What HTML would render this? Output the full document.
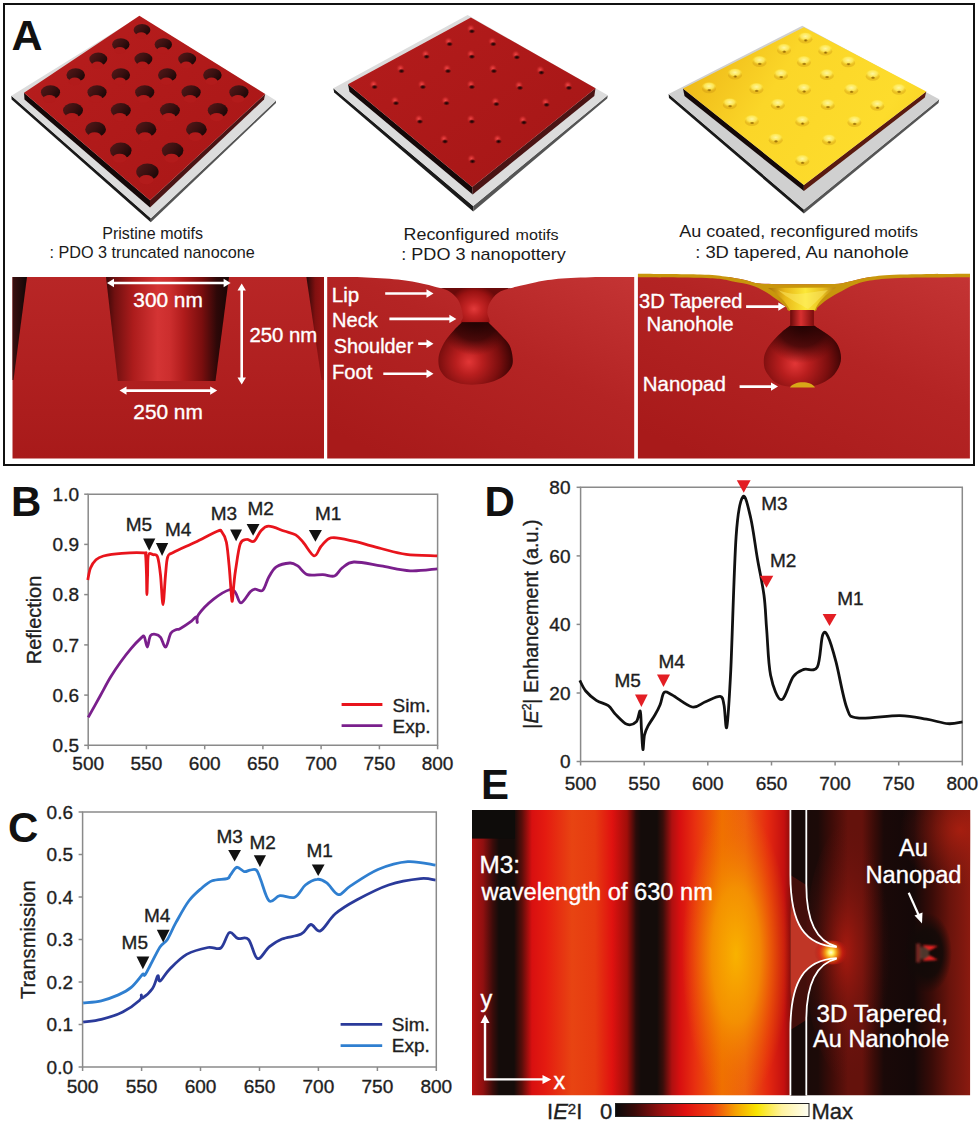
<!DOCTYPE html>
<html><head><meta charset="utf-8"><style>
html,body{margin:0;padding:0;background:#fff;width:980px;height:1126px;overflow:hidden}
svg{position:absolute;left:0;top:0;display:block}
text{font-family:"Liberation Sans",sans-serif;stroke-width:0.35px}
</style></head><body>
<svg width="980" height="1126" viewBox="0 0 980 1126">
<defs>
<linearGradient id="redTop1" x1="0" y1="0" x2="1" y2="1"><stop offset="0" stop-color="#b81e1e"/><stop offset="1" stop-color="#a81616"/></linearGradient>
<linearGradient id="redTop2" x1="0" y1="0" x2="1" y2="1"><stop offset="0" stop-color="#b41c1c"/><stop offset="1" stop-color="#a51616"/></linearGradient>
<linearGradient id="goldTop" x1="0" y1="0.3" x2="1" y2="0.7"><stop offset="0" stop-color="#eeb818"/><stop offset="0.35" stop-color="#fbd628"/><stop offset="0.8" stop-color="#fddc2c"/><stop offset="1" stop-color="#f8d222"/></linearGradient>
<linearGradient id="holeG" x1="0" y1="0.2" x2="1" y2="0.8"><stop offset="0" stop-color="#521818"/><stop offset="0.5" stop-color="#3a1010"/><stop offset="1" stop-color="#180606"/></linearGradient>
<radialGradient id="dimHL"><stop offset="0" stop-color="#f04848"/><stop offset="0.45" stop-color="#dc3434" stop-opacity="0.7"/><stop offset="1" stop-color="#b01a1a" stop-opacity="0"/></radialGradient>
<radialGradient id="dimDK"><stop offset="0" stop-color="#120202"/><stop offset="0.45" stop-color="#2a0606" stop-opacity="0.8"/><stop offset="1" stop-color="#4a0a0a" stop-opacity="0"/></radialGradient>
<radialGradient id="gdimHL" cy="0.4"><stop offset="0" stop-color="#fff7a0"/><stop offset="0.6" stop-color="#ffec60" stop-opacity="0.85"/><stop offset="1" stop-color="#f8d828" stop-opacity="0"/></radialGradient>
<radialGradient id="gdimDK"><stop offset="0" stop-color="#7a5000" stop-opacity="0.85"/><stop offset="0.6" stop-color="#9a6a00" stop-opacity="0.55"/><stop offset="1" stop-color="#b08000" stop-opacity="0"/></radialGradient>
<linearGradient id="xsBg" x1="0" y1="0" x2="0" y2="1"><stop offset="0" stop-color="#b82626"/><stop offset="0.5" stop-color="#b02020"/><stop offset="1" stop-color="#a81a1a"/></linearGradient>
<linearGradient id="xsBg2" x1="1" y1="0" x2="0.2" y2="1"><stop offset="0" stop-color="#c43434"/><stop offset="0.45" stop-color="#b42424"/><stop offset="1" stop-color="#a81a1a"/></linearGradient>
<linearGradient id="coneG" x1="0" y1="0" x2="1" y2="0"><stop offset="0" stop-color="#3a0808"/><stop offset="0.07" stop-color="#701010"/><stop offset="0.22" stop-color="#ac1c1c"/><stop offset="0.42" stop-color="#d43434"/><stop offset="0.52" stop-color="#cc2e2e"/><stop offset="0.63" stop-color="#b01c1c"/><stop offset="0.78" stop-color="#7a0e0e"/><stop offset="0.9" stop-color="#2e0808"/><stop offset="1" stop-color="#180505"/></linearGradient>
<linearGradient id="wedgeL" x1="0" y1="0" x2="1" y2="0"><stop offset="0" stop-color="#3a1010"/><stop offset="1" stop-color="#120606"/></linearGradient>
<linearGradient id="wedgeR" x1="0" y1="0" x2="1" y2="0"><stop offset="0" stop-color="#2a0808"/><stop offset="0.5" stop-color="#801010"/><stop offset="1" stop-color="#9a1414"/></linearGradient>
<radialGradient id="bulbG" gradientUnits="userSpaceOnUse" cx="469" cy="362" r="44"><stop offset="0" stop-color="#e23636"/><stop offset="0.3" stop-color="#b81e1e"/><stop offset="0.7" stop-color="#7a0e0e"/><stop offset="1" stop-color="#3a0404"/></radialGradient>
<radialGradient id="neckG" cx="0.5" cy="0.55" r="0.55"><stop offset="0" stop-color="#e03a3a"/><stop offset="0.6" stop-color="#b01818"/><stop offset="1" stop-color="#6a0808"/></radialGradient>
<radialGradient id="neckG2" gradientUnits="userSpaceOnUse" cx="474" cy="309" r="26" gradientTransform="translate(474 309) scale(1 0.9) translate(-474 -309)"><stop offset="0" stop-color="#e23a3a"/><stop offset="0.3" stop-color="#c42424"/><stop offset="0.75" stop-color="#9a1212"/><stop offset="1" stop-color="#6a0a0a"/></radialGradient>
<radialGradient id="bulbShade" gradientUnits="userSpaceOnUse" cx="475" cy="318" r="50"><stop offset="0" stop-color="#1a0202" stop-opacity="0.95"/><stop offset="0.45" stop-color="#2a0404" stop-opacity="0.7"/><stop offset="0.75" stop-color="#500808" stop-opacity="0"/></radialGradient>
<radialGradient id="bulbShade3" gradientUnits="userSpaceOnUse" cx="802" cy="322" r="55"><stop offset="0" stop-color="#1a0202" stop-opacity="0.95"/><stop offset="0.45" stop-color="#2a0404" stop-opacity="0.7"/><stop offset="0.75" stop-color="#500808" stop-opacity="0"/></radialGradient>
<radialGradient id="bulbG3" gradientUnits="userSpaceOnUse" cx="795" cy="364" r="48"><stop offset="0" stop-color="#e23636"/><stop offset="0.3" stop-color="#b81e1e"/><stop offset="0.7" stop-color="#7a0e0e"/><stop offset="1" stop-color="#3a0404"/></radialGradient>
<linearGradient id="neck3G" x1="0" y1="0" x2="1" y2="0"><stop offset="0" stop-color="#6a0a0a"/><stop offset="0.45" stop-color="#d83030"/><stop offset="1" stop-color="#7a0c0c"/></linearGradient>
<linearGradient id="goldL" x1="0" y1="0" x2="1" y2="0"><stop offset="0" stop-color="#a87008"/><stop offset="0.25" stop-color="#e8b818"/><stop offset="0.55" stop-color="#fce838"/><stop offset="0.8" stop-color="#e8c020"/><stop offset="1" stop-color="#b88010"/></linearGradient>
</defs>
<polygon points="11.4,95.8 150.8,218.2 150.8,222.2 11.6,99.5" fill="#1a1a1a"/>
<polygon points="150.8,218.2 276.0,100.6 276.0,103.0 150.8,222.2" fill="#555"/>
<polygon points="139.4,16.5 276.0,100.6 150.8,218.2 11.4,95.8" fill="#dcdcdc"/>
<polygon points="24.0,92.8 150.0,200.2 150.0,207.6 24.5,99.5" fill="#140808"/>
<polygon points="150.0,200.2 265.2,93.9 264.0,99.5 150.0,207.6" fill="#4a1414"/>
<polygon points="139.4,15.8 265.2,93.9 150.0,200.2 24.0,92.8" fill="url(#redTop1)"/>
<ellipse cx="142.0" cy="29.9" rx="8.4" ry="6.0" fill="url(#holeG)"/>
<ellipse cx="141.2" cy="35.6" rx="5.5" ry="3.4" fill="#b21b1b"/>
<ellipse cx="120.8" cy="44.5" rx="8.7" ry="6.2" fill="url(#holeG)"/>
<ellipse cx="119.9" cy="50.4" rx="5.7" ry="3.5" fill="#b21b1b"/>
<ellipse cx="163.3" cy="44.5" rx="8.7" ry="6.2" fill="url(#holeG)"/>
<ellipse cx="162.4" cy="50.4" rx="5.7" ry="3.5" fill="#b21b1b"/>
<ellipse cx="98.3" cy="59.1" rx="9.0" ry="6.5" fill="url(#holeG)"/>
<ellipse cx="97.4" cy="65.2" rx="5.9" ry="3.6" fill="#b21b1b"/>
<ellipse cx="143.4" cy="59.1" rx="9.0" ry="6.5" fill="url(#holeG)"/>
<ellipse cx="142.5" cy="65.2" rx="5.9" ry="3.6" fill="#b21b1b"/>
<ellipse cx="187.2" cy="59.1" rx="9.0" ry="6.5" fill="url(#holeG)"/>
<ellipse cx="186.3" cy="65.2" rx="5.9" ry="3.6" fill="#b21b1b"/>
<ellipse cx="75.7" cy="75.0" rx="9.3" ry="6.7" fill="url(#holeG)"/>
<ellipse cx="74.8" cy="81.4" rx="6.1" ry="3.8" fill="#b21b1b"/>
<ellipse cx="120.8" cy="75.0" rx="9.3" ry="6.7" fill="url(#holeG)"/>
<ellipse cx="119.9" cy="81.4" rx="6.1" ry="3.8" fill="#b21b1b"/>
<ellipse cx="167.3" cy="75.0" rx="9.3" ry="6.7" fill="url(#holeG)"/>
<ellipse cx="166.4" cy="81.4" rx="6.1" ry="3.8" fill="#b21b1b"/>
<ellipse cx="212.4" cy="75.0" rx="9.3" ry="6.7" fill="url(#holeG)"/>
<ellipse cx="211.5" cy="81.4" rx="6.1" ry="3.8" fill="#b21b1b"/>
<ellipse cx="50.5" cy="92.2" rx="9.6" ry="7.0" fill="url(#holeG)"/>
<ellipse cx="49.5" cy="98.9" rx="6.4" ry="3.9" fill="#b21b1b"/>
<ellipse cx="97.0" cy="92.2" rx="9.6" ry="7.0" fill="url(#holeG)"/>
<ellipse cx="96.0" cy="98.9" rx="6.4" ry="3.9" fill="#b21b1b"/>
<ellipse cx="144.7" cy="92.2" rx="9.6" ry="7.0" fill="url(#holeG)"/>
<ellipse cx="143.7" cy="98.9" rx="6.4" ry="3.9" fill="#b21b1b"/>
<ellipse cx="191.1" cy="92.2" rx="9.6" ry="7.0" fill="url(#holeG)"/>
<ellipse cx="190.1" cy="98.9" rx="6.4" ry="3.9" fill="#b21b1b"/>
<ellipse cx="238.9" cy="92.2" rx="9.6" ry="7.0" fill="url(#holeG)"/>
<ellipse cx="237.9" cy="98.9" rx="6.4" ry="3.9" fill="#b21b1b"/>
<ellipse cx="73.0" cy="110.3" rx="10.0" ry="7.3" fill="url(#holeG)"/>
<ellipse cx="72.0" cy="117.2" rx="6.6" ry="4.1" fill="#b21b1b"/>
<ellipse cx="120.8" cy="110.3" rx="10.0" ry="7.3" fill="url(#holeG)"/>
<ellipse cx="119.8" cy="117.2" rx="6.6" ry="4.1" fill="#b21b1b"/>
<ellipse cx="169.9" cy="110.3" rx="10.0" ry="7.3" fill="url(#holeG)"/>
<ellipse cx="168.9" cy="117.2" rx="6.6" ry="4.1" fill="#b21b1b"/>
<ellipse cx="217.7" cy="110.3" rx="10.0" ry="7.3" fill="url(#holeG)"/>
<ellipse cx="216.7" cy="117.2" rx="6.6" ry="4.1" fill="#b21b1b"/>
<ellipse cx="95.6" cy="129.4" rx="10.4" ry="7.6" fill="url(#holeG)"/>
<ellipse cx="94.6" cy="136.6" rx="6.8" ry="4.3" fill="#b21b1b"/>
<ellipse cx="146.0" cy="129.4" rx="10.4" ry="7.6" fill="url(#holeG)"/>
<ellipse cx="145.0" cy="136.6" rx="6.8" ry="4.3" fill="#b21b1b"/>
<ellipse cx="196.4" cy="129.4" rx="10.4" ry="7.6" fill="url(#holeG)"/>
<ellipse cx="195.4" cy="136.6" rx="6.8" ry="4.3" fill="#b21b1b"/>
<ellipse cx="120.8" cy="150.6" rx="10.8" ry="8.0" fill="url(#holeG)"/>
<ellipse cx="119.7" cy="158.2" rx="7.1" ry="4.5" fill="#b21b1b"/>
<ellipse cx="172.6" cy="150.6" rx="10.8" ry="8.0" fill="url(#holeG)"/>
<ellipse cx="171.5" cy="158.2" rx="7.1" ry="4.5" fill="#b21b1b"/>
<ellipse cx="147.4" cy="171.8" rx="11.2" ry="8.3" fill="url(#holeG)"/>
<ellipse cx="146.3" cy="179.7" rx="7.4" ry="4.6" fill="#b21b1b"/>
<polygon points="333.3,88.2 473.2,205.9 473.2,211.4 334.2,92.5" fill="#1a1a1a"/>
<polygon points="473.2,205.9 607.8,95.2 607.2,98.5 473.2,211.4" fill="#555"/>
<polygon points="467.6,15.1 607.8,95.2 473.2,205.9 333.3,88.2" fill="#dcdcdc"/>
<polygon points="348.0,84.2 472.2,187.1 472.7,194.4 349.5,91.8" fill="#140808"/>
<polygon points="472.2,187.1 595.5,88.2 594.3,96.1 472.7,194.4" fill="#4a1414"/>
<polygon points="470.9,17.6 595.5,88.2 472.2,187.1 348.0,84.2" fill="url(#redTop2)"/>
<circle cx="470.8" cy="28.5" r="4.6" fill="url(#dimHL)"/>
<ellipse cx="471.9" cy="31.3" rx="3.4" ry="2.4" fill="url(#dimDK)"/>
<circle cx="448.5" cy="41.3" r="4.6" fill="url(#dimHL)"/>
<ellipse cx="449.6" cy="44.1" rx="3.4" ry="2.4" fill="url(#dimDK)"/>
<circle cx="492.2" cy="41.3" r="4.6" fill="url(#dimHL)"/>
<ellipse cx="493.3" cy="44.1" rx="3.4" ry="2.4" fill="url(#dimDK)"/>
<circle cx="425.5" cy="53.9" r="4.6" fill="url(#dimHL)"/>
<ellipse cx="426.6" cy="56.7" rx="3.4" ry="2.4" fill="url(#dimDK)"/>
<circle cx="470.8" cy="53.9" r="4.6" fill="url(#dimHL)"/>
<ellipse cx="471.9" cy="56.7" rx="3.4" ry="2.4" fill="url(#dimDK)"/>
<circle cx="515.8" cy="54.5" r="4.6" fill="url(#dimHL)"/>
<ellipse cx="516.9" cy="57.3" rx="3.4" ry="2.4" fill="url(#dimDK)"/>
<circle cx="400.4" cy="68.3" r="4.6" fill="url(#dimHL)"/>
<ellipse cx="401.5" cy="71.1" rx="3.4" ry="2.4" fill="url(#dimDK)"/>
<circle cx="446.9" cy="68.3" r="4.6" fill="url(#dimHL)"/>
<ellipse cx="448.0" cy="71.1" rx="3.4" ry="2.4" fill="url(#dimDK)"/>
<circle cx="492.8" cy="68.3" r="4.6" fill="url(#dimHL)"/>
<ellipse cx="493.9" cy="71.1" rx="3.4" ry="2.4" fill="url(#dimDK)"/>
<circle cx="540.3" cy="69.8" r="4.6" fill="url(#dimHL)"/>
<ellipse cx="541.4" cy="72.6" rx="3.4" ry="2.4" fill="url(#dimDK)"/>
<circle cx="373.5" cy="84.2" r="4.6" fill="url(#dimHL)"/>
<ellipse cx="374.6" cy="87.0" rx="3.4" ry="2.4" fill="url(#dimDK)"/>
<circle cx="421.8" cy="84.2" r="4.6" fill="url(#dimHL)"/>
<ellipse cx="422.9" cy="87.0" rx="3.4" ry="2.4" fill="url(#dimDK)"/>
<circle cx="470.8" cy="84.2" r="4.6" fill="url(#dimHL)"/>
<ellipse cx="471.9" cy="87.0" rx="3.4" ry="2.4" fill="url(#dimDK)"/>
<circle cx="518.9" cy="85.1" r="4.6" fill="url(#dimHL)"/>
<ellipse cx="520.0" cy="87.9" rx="3.4" ry="2.4" fill="url(#dimDK)"/>
<circle cx="567.8" cy="85.1" r="4.6" fill="url(#dimHL)"/>
<ellipse cx="568.9" cy="87.9" rx="3.4" ry="2.4" fill="url(#dimDK)"/>
<circle cx="394.9" cy="100.4" r="4.6" fill="url(#dimHL)"/>
<ellipse cx="396.0" cy="103.2" rx="3.4" ry="2.4" fill="url(#dimDK)"/>
<circle cx="445.4" cy="100.4" r="4.6" fill="url(#dimHL)"/>
<ellipse cx="446.5" cy="103.2" rx="3.4" ry="2.4" fill="url(#dimDK)"/>
<circle cx="495.3" cy="101.3" r="4.6" fill="url(#dimHL)"/>
<ellipse cx="496.4" cy="104.1" rx="3.4" ry="2.4" fill="url(#dimDK)"/>
<circle cx="545.5" cy="102.0" r="4.6" fill="url(#dimHL)"/>
<ellipse cx="546.6" cy="104.8" rx="3.4" ry="2.4" fill="url(#dimDK)"/>
<circle cx="418.8" cy="118.8" r="4.6" fill="url(#dimHL)"/>
<ellipse cx="419.9" cy="121.6" rx="3.4" ry="2.4" fill="url(#dimDK)"/>
<circle cx="470.8" cy="118.8" r="4.6" fill="url(#dimHL)"/>
<ellipse cx="471.9" cy="121.6" rx="3.4" ry="2.4" fill="url(#dimDK)"/>
<circle cx="522.8" cy="119.7" r="4.6" fill="url(#dimHL)"/>
<ellipse cx="523.9" cy="122.5" rx="3.4" ry="2.4" fill="url(#dimDK)"/>
<circle cx="443.9" cy="138.7" r="4.6" fill="url(#dimHL)"/>
<ellipse cx="445.0" cy="141.5" rx="3.4" ry="2.4" fill="url(#dimDK)"/>
<circle cx="497.5" cy="138.7" r="4.6" fill="url(#dimHL)"/>
<ellipse cx="498.6" cy="141.5" rx="3.4" ry="2.4" fill="url(#dimDK)"/>
<circle cx="471.4" cy="158.6" r="4.6" fill="url(#dimHL)"/>
<ellipse cx="472.5" cy="161.4" rx="3.4" ry="2.4" fill="url(#dimDK)"/>
<polygon points="668.6,94.0 803.9,209.4 803.9,213.5 669.0,98.0" fill="#1a1a1a"/>
<polygon points="803.9,209.4 939.2,99.2 938.5,103.0 803.9,213.5" fill="#555"/>
<polygon points="802.3,25.7 939.2,99.2 803.9,209.4 668.6,94.0" fill="#d0d0d0"/>
<polygon points="683.0,88.5 803.9,184.9 803.9,191.0 684.5,96.1" fill="#140808"/>
<polygon points="803.9,184.9 926.3,91.5 924.8,97.6 803.9,191.0" fill="#5a1a10"/>
<polygon points="803.9,27.2 926.3,91.5 803.9,184.9 683.0,88.5" fill="url(#goldTop)"/>
<ellipse cx="805.4" cy="39.2" rx="7.0" ry="4.2" fill="#c89010" opacity="0.35"/>
<ellipse cx="805.4" cy="37.4" rx="7.8" ry="5.0" fill="url(#gdimHL)"/>
<ellipse cx="805.7" cy="40.4" rx="2.4" ry="1.6" fill="url(#gdimDK)"/>
<ellipse cx="784.0" cy="50.5" rx="7.0" ry="4.2" fill="#c89010" opacity="0.35"/>
<ellipse cx="784.0" cy="48.7" rx="7.8" ry="5.0" fill="url(#gdimHL)"/>
<ellipse cx="784.3" cy="51.7" rx="2.4" ry="1.6" fill="url(#gdimDK)"/>
<ellipse cx="825.3" cy="51.4" rx="7.0" ry="4.2" fill="#c89010" opacity="0.35"/>
<ellipse cx="825.3" cy="49.6" rx="7.8" ry="5.0" fill="url(#gdimHL)"/>
<ellipse cx="825.6" cy="52.6" rx="2.4" ry="1.6" fill="url(#gdimDK)"/>
<ellipse cx="759.5" cy="62.7" rx="7.0" ry="4.2" fill="#c89010" opacity="0.35"/>
<ellipse cx="759.5" cy="60.9" rx="7.8" ry="5.0" fill="url(#gdimHL)"/>
<ellipse cx="759.8" cy="63.9" rx="2.4" ry="1.6" fill="url(#gdimDK)"/>
<ellipse cx="803.9" cy="62.7" rx="7.0" ry="4.2" fill="#c89010" opacity="0.35"/>
<ellipse cx="803.9" cy="60.9" rx="7.8" ry="5.0" fill="url(#gdimHL)"/>
<ellipse cx="804.2" cy="63.9" rx="2.4" ry="1.6" fill="url(#gdimDK)"/>
<ellipse cx="848.2" cy="63.0" rx="7.0" ry="4.2" fill="#c89010" opacity="0.35"/>
<ellipse cx="848.2" cy="61.2" rx="7.8" ry="5.0" fill="url(#gdimHL)"/>
<ellipse cx="848.5" cy="64.2" rx="2.4" ry="1.6" fill="url(#gdimDK)"/>
<ellipse cx="735.0" cy="75.3" rx="7.0" ry="4.2" fill="#c89010" opacity="0.35"/>
<ellipse cx="735.0" cy="73.5" rx="7.8" ry="5.0" fill="url(#gdimHL)"/>
<ellipse cx="735.3" cy="76.5" rx="2.4" ry="1.6" fill="url(#gdimDK)"/>
<ellipse cx="780.9" cy="75.9" rx="7.0" ry="4.2" fill="#c89010" opacity="0.35"/>
<ellipse cx="780.9" cy="74.1" rx="7.8" ry="5.0" fill="url(#gdimHL)"/>
<ellipse cx="781.2" cy="77.1" rx="2.4" ry="1.6" fill="url(#gdimDK)"/>
<ellipse cx="826.8" cy="75.9" rx="7.0" ry="4.2" fill="#c89010" opacity="0.35"/>
<ellipse cx="826.8" cy="74.1" rx="7.8" ry="5.0" fill="url(#gdimHL)"/>
<ellipse cx="827.1" cy="77.1" rx="2.4" ry="1.6" fill="url(#gdimDK)"/>
<ellipse cx="872.7" cy="76.5" rx="7.0" ry="4.2" fill="#c89010" opacity="0.35"/>
<ellipse cx="872.7" cy="74.7" rx="7.8" ry="5.0" fill="url(#gdimHL)"/>
<ellipse cx="873.0" cy="77.7" rx="2.4" ry="1.6" fill="url(#gdimDK)"/>
<ellipse cx="709.0" cy="89.0" rx="7.0" ry="4.2" fill="#c89010" opacity="0.35"/>
<ellipse cx="709.0" cy="87.2" rx="7.8" ry="5.0" fill="url(#gdimHL)"/>
<ellipse cx="709.3" cy="90.2" rx="2.4" ry="1.6" fill="url(#gdimDK)"/>
<ellipse cx="756.4" cy="89.7" rx="7.0" ry="4.2" fill="#c89010" opacity="0.35"/>
<ellipse cx="756.4" cy="87.9" rx="7.8" ry="5.0" fill="url(#gdimHL)"/>
<ellipse cx="756.7" cy="90.9" rx="2.4" ry="1.6" fill="url(#gdimDK)"/>
<ellipse cx="803.9" cy="90.3" rx="7.0" ry="4.2" fill="#c89010" opacity="0.35"/>
<ellipse cx="803.9" cy="88.5" rx="7.8" ry="5.0" fill="url(#gdimHL)"/>
<ellipse cx="804.2" cy="91.5" rx="2.4" ry="1.6" fill="url(#gdimDK)"/>
<ellipse cx="851.3" cy="90.6" rx="7.0" ry="4.2" fill="#c89010" opacity="0.35"/>
<ellipse cx="851.3" cy="88.8" rx="7.8" ry="5.0" fill="url(#gdimHL)"/>
<ellipse cx="851.6" cy="91.8" rx="2.4" ry="1.6" fill="url(#gdimDK)"/>
<ellipse cx="898.8" cy="90.6" rx="7.0" ry="4.2" fill="#c89010" opacity="0.35"/>
<ellipse cx="898.8" cy="88.8" rx="7.8" ry="5.0" fill="url(#gdimHL)"/>
<ellipse cx="899.1" cy="91.8" rx="2.4" ry="1.6" fill="url(#gdimDK)"/>
<ellipse cx="729.8" cy="105.0" rx="7.0" ry="4.2" fill="#c89010" opacity="0.35"/>
<ellipse cx="729.8" cy="103.2" rx="7.8" ry="5.0" fill="url(#gdimHL)"/>
<ellipse cx="730.1" cy="106.2" rx="2.4" ry="1.6" fill="url(#gdimDK)"/>
<ellipse cx="777.8" cy="105.6" rx="7.0" ry="4.2" fill="#c89010" opacity="0.35"/>
<ellipse cx="777.8" cy="103.8" rx="7.8" ry="5.0" fill="url(#gdimHL)"/>
<ellipse cx="778.1" cy="106.8" rx="2.4" ry="1.6" fill="url(#gdimDK)"/>
<ellipse cx="827.7" cy="105.9" rx="7.0" ry="4.2" fill="#c89010" opacity="0.35"/>
<ellipse cx="827.7" cy="104.1" rx="7.8" ry="5.0" fill="url(#gdimHL)"/>
<ellipse cx="828.0" cy="107.1" rx="2.4" ry="1.6" fill="url(#gdimDK)"/>
<ellipse cx="877.3" cy="106.5" rx="7.0" ry="4.2" fill="#c89010" opacity="0.35"/>
<ellipse cx="877.3" cy="104.7" rx="7.8" ry="5.0" fill="url(#gdimHL)"/>
<ellipse cx="877.6" cy="107.7" rx="2.4" ry="1.6" fill="url(#gdimDK)"/>
<ellipse cx="751.8" cy="121.8" rx="7.0" ry="4.2" fill="#c89010" opacity="0.35"/>
<ellipse cx="751.8" cy="120.0" rx="7.8" ry="5.0" fill="url(#gdimHL)"/>
<ellipse cx="752.1" cy="123.0" rx="2.4" ry="1.6" fill="url(#gdimDK)"/>
<ellipse cx="802.3" cy="122.4" rx="7.0" ry="4.2" fill="#c89010" opacity="0.35"/>
<ellipse cx="802.3" cy="120.6" rx="7.8" ry="5.0" fill="url(#gdimHL)"/>
<ellipse cx="802.6" cy="123.6" rx="2.4" ry="1.6" fill="url(#gdimDK)"/>
<ellipse cx="854.4" cy="122.7" rx="7.0" ry="4.2" fill="#c89010" opacity="0.35"/>
<ellipse cx="854.4" cy="120.9" rx="7.8" ry="5.0" fill="url(#gdimHL)"/>
<ellipse cx="854.7" cy="123.9" rx="2.4" ry="1.6" fill="url(#gdimDK)"/>
<ellipse cx="775.7" cy="140.2" rx="7.0" ry="4.2" fill="#c89010" opacity="0.35"/>
<ellipse cx="775.7" cy="138.4" rx="7.8" ry="5.0" fill="url(#gdimHL)"/>
<ellipse cx="776.0" cy="141.4" rx="2.4" ry="1.6" fill="url(#gdimDK)"/>
<ellipse cx="829.0" cy="141.1" rx="7.0" ry="4.2" fill="#c89010" opacity="0.35"/>
<ellipse cx="829.0" cy="139.3" rx="7.8" ry="5.0" fill="url(#gdimHL)"/>
<ellipse cx="829.3" cy="142.3" rx="2.4" ry="1.6" fill="url(#gdimDK)"/>
<ellipse cx="802.3" cy="161.6" rx="7.0" ry="4.2" fill="#c89010" opacity="0.35"/>
<ellipse cx="802.3" cy="159.8" rx="7.8" ry="5.0" fill="url(#gdimHL)"/>
<ellipse cx="802.6" cy="162.8" rx="2.4" ry="1.6" fill="url(#gdimDK)"/>
<text x="102.2" y="238.5" font-size="17.0" fill="#1a1a1a" textLength="100.8" lengthAdjust="spacingAndGlyphs" >Pristine motifs</text>
<text x="49.4" y="258.0" font-size="17.0" fill="#1a1a1a" textLength="205.4" lengthAdjust="spacingAndGlyphs" >: PDO 3 truncated nanocone</text>
<text x="403.6" y="239.7" font-size="17.0" fill="#1a1a1a" textLength="106.2" lengthAdjust="spacingAndGlyphs" >Reconfigured</text>
<text x="515.6" y="239.7" font-size="14.6" fill="#1a1a1a" textLength="42.9" lengthAdjust="spacingAndGlyphs" >motifs</text>
<text x="401.3" y="259.9" font-size="17.0" fill="#1a1a1a" textLength="164.6" lengthAdjust="spacingAndGlyphs" >: PDO 3 nanopottery</text>
<text x="679.3" y="236.8" font-size="17.0" fill="#1a1a1a" textLength="191.0" lengthAdjust="spacingAndGlyphs" >Au coated, reconfigured</text>
<text x="874.2" y="236.8" font-size="14.6" fill="#1a1a1a" textLength="43.8" lengthAdjust="spacingAndGlyphs" >motifs</text>
<text x="695.2" y="257.5" font-size="17.0" fill="#1a1a1a" textLength="213.6" lengthAdjust="spacingAndGlyphs" >: 3D  tapered, Au nanohole</text>
<rect x="12.5" y="277" width="311.5" height="181.5" fill="url(#xsBg)"/>
<polygon points="106,277 229,277 215.5,381 117.8,381" fill="url(#coneG)"/>
<polygon points="12.5,277 27,277 13.5,380 12.5,380" fill="url(#wedgeL)"/>
<polygon points="306.4,277 324,277 324,380 321.5,380" fill="url(#wedgeR)"/>
<line x1="113.0" y1="283.0" x2="224.6" y2="283.0" stroke="#fff" stroke-width="2.6"/><polygon points="230.6,283.0 223.6,278.8 223.6,287.2" fill="#fff"/><polygon points="107.0,283.0 114.0,278.8 114.0,287.2" fill="#fff"/>
<line x1="241.7" y1="289.6" x2="241.7" y2="378.6" stroke="#fff" stroke-width="2.6"/><polygon points="241.7,283.6 237.5,290.6 245.9,290.6" fill="#fff"/><polygon points="241.7,384.6 237.5,377.6 245.9,377.6" fill="#fff"/>
<line x1="125.5" y1="390.6" x2="211.2" y2="390.6" stroke="#fff" stroke-width="2.6"/><polygon points="217.2,390.6 210.2,386.4 210.2,394.8" fill="#fff"/><polygon points="119.5,390.6 126.5,386.4 126.5,394.8" fill="#fff"/>
<text x="133.3" y="306.5" font-size="20.0" fill="#ffffff" textLength="69.5" lengthAdjust="spacingAndGlyphs" stroke="#ffffff" >300 nm</text>
<text x="249.5" y="341.8" font-size="20.0" fill="#ffffff" textLength="67.8" lengthAdjust="spacingAndGlyphs" stroke="#ffffff" >250 nm</text>
<text x="133.3" y="419.3" font-size="20.0" fill="#ffffff" textLength="69.5" lengthAdjust="spacingAndGlyphs" stroke="#ffffff" >250 nm</text>
<rect x="327.2" y="277" width="307" height="181.5" fill="url(#xsBg2)"/>
<path d="M327.0,276.8 C332.8,276.9 350.2,276.8 362.0,277.3 C373.8,277.8 387.7,278.5 398.0,279.6 C408.3,280.7 417.0,282.6 424.0,284.0 C431.0,285.4 435.8,287.2 440.0,288.0 C444.2,288.8 442.7,288.6 449.0,288.8 C455.3,289.0 468.5,289.0 478.0,289.0 C487.5,289.0 499.7,289.2 506.0,288.8 C512.3,288.4 511.0,287.9 516.0,286.8 C521.0,285.7 528.3,283.6 536.0,282.2 C543.7,280.8 551.3,279.5 562.0,278.6 C572.7,277.7 587.8,277.3 600.0,277.0 C612.2,276.7 629.2,276.8 635.0,276.8 L635,270 L327,270 Z" fill="#fff"/>
<path d="M440.0,288.0 C441.5,288.5 446.1,289.4 449.0,291.2 C451.9,293.0 455.1,295.9 457.1,298.6 C459.1,301.3 460.2,304.5 461.2,307.6 C462.2,310.7 462.7,314.7 462.9,317.3 C463.1,319.9 458.3,322.5 462.5,323.5 C466.7,324.5 483.9,325.4 488.0,323.5 C492.1,321.6 487.0,315.9 487.3,312.4 C487.6,308.9 488.0,305.9 489.8,302.7 C491.6,299.4 494.5,295.3 498.0,292.9 C501.5,290.4 508.8,288.8 511.0,288.0 Z" fill="url(#neckG2)"/>
<path d="M462.0,322.2 C460.6,323.6 456.6,327.4 453.9,330.4 C451.2,333.4 448.0,336.7 445.7,340.2 C443.4,343.7 441.2,348.1 440.0,351.6 C438.8,355.1 438.3,358.1 438.4,361.4 C438.5,364.7 439.0,368.2 440.8,371.2 C442.6,374.2 444.9,377.2 449.0,379.4 C453.1,381.6 459.3,383.6 465.3,384.3 C471.3,385.0 478.9,384.6 484.9,383.5 C490.9,382.4 496.8,380.4 501.2,377.8 C505.6,375.2 509.1,371.3 511.0,368.0 C512.9,364.7 513.0,362.0 512.7,358.2 C512.4,354.4 511.3,348.9 509.4,345.1 C507.5,341.3 504.2,338.6 501.2,335.3 C498.2,332.0 493.6,327.7 491.4,325.5 C489.2,323.3 488.7,322.8 488.2,322.2 Z" fill="url(#bulbG)"/>
<path d="M462.0,322.2 C460.6,323.6 456.6,327.4 453.9,330.4 C451.2,333.4 448.0,336.7 445.7,340.2 C443.4,343.7 441.2,348.1 440.0,351.6 C438.8,355.1 438.3,358.1 438.4,361.4 C438.5,364.7 439.0,368.2 440.8,371.2 C442.6,374.2 444.9,377.2 449.0,379.4 C453.1,381.6 459.3,383.6 465.3,384.3 C471.3,385.0 478.9,384.6 484.9,383.5 C490.9,382.4 496.8,380.4 501.2,377.8 C505.6,375.2 509.1,371.3 511.0,368.0 C512.9,364.7 513.0,362.0 512.7,358.2 C512.4,354.4 511.3,348.9 509.4,345.1 C507.5,341.3 504.2,338.6 501.2,335.3 C498.2,332.0 493.6,327.7 491.4,325.5 C489.2,323.3 488.7,322.8 488.2,322.2 Z" fill="url(#bulbShade)"/>
<line x1="385.2" y1="293.5" x2="427.5" y2="293.5" stroke="#fff" stroke-width="2.6"/><polygon points="433.5,293.5 426.5,289.3 426.5,297.7" fill="#fff"/>
<line x1="389.4" y1="318.9" x2="450.4" y2="318.9" stroke="#fff" stroke-width="2.6"/><polygon points="456.4,318.9 449.4,314.7 449.4,323.1" fill="#fff"/>
<line x1="418.2" y1="343.7" x2="427.5" y2="343.7" stroke="#fff" stroke-width="2.6"/><polygon points="433.5,343.7 426.5,339.5 426.5,347.9" fill="#fff"/>
<line x1="383.3" y1="373.7" x2="427.5" y2="373.7" stroke="#fff" stroke-width="2.6"/><polygon points="433.5,373.7 426.5,369.5 426.5,377.9" fill="#fff"/>
<text x="331.8" y="301.6" font-size="19.5" fill="#ffffff" textLength="27.4" lengthAdjust="spacingAndGlyphs" stroke="#ffffff" >Lip</text>
<text x="332.0" y="326.8" font-size="19.5" fill="#ffffff" textLength="45.8" lengthAdjust="spacingAndGlyphs" stroke="#ffffff" >Neck</text>
<text x="333.7" y="352.5" font-size="19.5" fill="#ffffff" textLength="79.6" lengthAdjust="spacingAndGlyphs" stroke="#ffffff" >Shoulder</text>
<text x="332.0" y="379.4" font-size="19.5" fill="#ffffff" textLength="40.3" lengthAdjust="spacingAndGlyphs" stroke="#ffffff" >Foot</text>
<rect x="637.9" y="277" width="332" height="181.5" fill="url(#xsBg2)"/>
<path d="M637.9,273.8 C648.2,273.9 685.5,274.1 700.0,274.5 C714.5,274.9 717.5,275.6 725.0,276.5 C732.5,277.4 739.2,278.8 745.0,280.0 C750.8,281.2 752.5,282.9 760.0,283.6 C767.5,284.3 780.0,284.1 790.0,284.2 C800.0,284.3 811.9,284.3 820.0,284.2 C828.1,284.1 833.4,284.3 838.7,283.8 C844.0,283.3 846.8,282.1 852.0,281.0 C857.2,279.9 862.0,278.1 870.0,277.0 C878.0,275.9 883.3,275.1 900.0,274.6 C916.7,274.1 958.3,273.9 970.0,273.8 L970,268 L637.9,268 Z" fill="#fff"/>
<path d="M637.9,273.8 C648.2,273.9 685.5,274.1 700.0,274.5 C714.5,274.9 717.5,275.6 725.0,276.5 C732.5,277.4 739.2,278.8 745.0,280.0 C750.8,281.2 752.5,282.9 760.0,283.6 C767.5,284.3 780.0,284.1 790.0,284.2 C800.0,284.3 811.9,284.3 820.0,284.2 C828.1,284.1 833.4,284.3 838.7,283.8 C844.0,283.3 846.8,282.1 852.0,281.0 C857.2,279.9 862.0,278.1 870.0,277.0 C878.0,275.9 883.3,275.1 900.0,274.6 C916.7,274.1 958.3,273.9 970.0,273.8 L970.0,277.3 C958.3,277.4 916.7,277.4 900.0,278.0 C883.3,278.6 877.7,279.4 870.0,280.6 C862.3,281.8 858.7,283.3 854.0,285.0 C849.3,286.7 846.3,288.7 842.0,291.0 C837.7,293.3 832.0,296.3 828.0,299.0 C824.0,301.7 820.4,305.0 818.0,307.0 C815.6,309.0 818.5,310.3 813.9,311.0 C809.3,311.7 794.9,311.7 790.2,311.0 C785.6,310.3 788.4,309.0 786.0,307.0 C783.6,305.0 779.7,301.7 776.0,299.0 C772.3,296.3 768.0,293.2 764.0,291.0 C760.0,288.8 757.2,287.1 752.0,285.5 C746.8,283.9 740.0,282.7 733.0,281.5 C726.0,280.3 725.9,279.0 710.0,278.3 C694.1,277.6 649.9,277.5 637.9,277.3 Z" fill="#c8960c"/>
<path d="M768,288 L836,287.5 C826,294 818,302 815,310 L790,310 C786,302 778,294 768,288 Z" fill="url(#goldL)"/>
<path d="M778,290 C795,297 805,293 828,290 C818,300 812,306 808,309 C800,304 790,300 778,290 Z" fill="#fff070" opacity="0.45"/>
<path d="M790.2,325.4 C788.8,326.5 784.7,329.4 782.0,331.9 C779.3,334.3 776.5,337.1 773.9,340.1 C771.3,343.1 768.2,346.6 766.5,349.9 C764.8,353.2 763.9,356.2 763.8,359.7 C763.7,363.2 763.8,367.3 765.7,371.1 C767.7,374.9 771.7,380.0 775.5,382.6 C779.3,385.2 783.7,385.9 788.6,386.6 C793.5,387.4 799.5,387.6 804.9,387.1 C810.3,386.6 816.3,385.5 821.2,383.4 C826.1,381.3 831.0,378.1 834.3,374.4 C837.6,370.7 840.0,365.6 840.8,361.3 C841.6,357.0 840.6,352.1 839.2,348.3 C837.9,344.5 835.7,341.5 832.7,338.5 C829.7,335.5 824.3,332.5 821.2,330.3 C818.1,328.1 815.1,326.2 813.9,325.4 Z" fill="url(#bulbG3)"/>
<path d="M790.2,325.4 C788.8,326.5 784.7,329.4 782.0,331.9 C779.3,334.3 776.5,337.1 773.9,340.1 C771.3,343.1 768.2,346.6 766.5,349.9 C764.8,353.2 763.9,356.2 763.8,359.7 C763.7,363.2 763.8,367.3 765.7,371.1 C767.7,374.9 771.7,380.0 775.5,382.6 C779.3,385.2 783.7,385.9 788.6,386.6 C793.5,387.4 799.5,387.6 804.9,387.1 C810.3,386.6 816.3,385.5 821.2,383.4 C826.1,381.3 831.0,378.1 834.3,374.4 C837.6,370.7 840.0,365.6 840.8,361.3 C841.6,357.0 840.6,352.1 839.2,348.3 C837.9,344.5 835.7,341.5 832.7,338.5 C829.7,335.5 824.3,332.5 821.2,330.3 C818.1,328.1 815.1,326.2 813.9,325.4 Z" fill="url(#bulbShade3)"/>
<rect x="790.2" y="310" width="23.7" height="16" fill="url(#neck3G)"/>
<path d="M790,387.6 C793,381 811,380 815,387.6 Z" fill="#d8a818"/>
<line x1="746.1" y1="306.6" x2="779.3" y2="306.6" stroke="#fff" stroke-width="2.6"/><polygon points="785.3,306.6 778.3,302.4 778.3,310.8" fill="#fff"/>
<line x1="739.6" y1="386.6" x2="772.0" y2="386.6" stroke="#fff" stroke-width="2.6"/><polygon points="778.0,386.6 771.0,382.4 771.0,390.8" fill="#fff"/>
<text x="639.0" y="308.2" font-size="21.0" fill="#ffffff" textLength="103.5" lengthAdjust="spacingAndGlyphs" stroke="#ffffff" >3D Tapered</text>
<text x="646.5" y="331.4" font-size="21.0" fill="#ffffff" textLength="87.1" lengthAdjust="spacingAndGlyphs" stroke="#ffffff" >Nanohole</text>
<text x="642.8" y="391.2" font-size="21.0" fill="#ffffff" textLength="83.0" lengthAdjust="spacingAndGlyphs" stroke="#ffffff" >Nanopad</text>
<rect x="4" y="4" width="970" height="461" fill="none" stroke="#111" stroke-width="2"/>
<text x="11.5" y="50.0" font-size="43.0" fill="#111" font-weight="bold" >A</text>
<text x="11.0" y="515.7" font-size="42.0" fill="#111" font-weight="bold" >B</text>
<text x="8.0" y="842.3" font-size="42.0" fill="#111" font-weight="bold" >C</text>
<text x="484.5" y="515.9" font-size="42.0" fill="#111" font-weight="bold" >D</text>
<path d="M88.2,494.2 H437.6 V745.3 H88.2 Z" fill="none" stroke="#8a8a8a" stroke-width="1.5"/>
<line x1="84.2" y1="494.2" x2="88.2" y2="494.2" stroke="#8a8a8a" stroke-width="1.5"/>
<text x="79.0" y="500.8" font-size="19.0" fill="#1e1e1e" text-anchor="end" stroke="#1e1e1e" >1.0</text>
<line x1="84.2" y1="544.4" x2="88.2" y2="544.4" stroke="#8a8a8a" stroke-width="1.5"/>
<text x="79.0" y="551.0" font-size="19.0" fill="#1e1e1e" text-anchor="end" stroke="#1e1e1e" >0.9</text>
<line x1="84.2" y1="594.6" x2="88.2" y2="594.6" stroke="#8a8a8a" stroke-width="1.5"/>
<text x="79.0" y="601.2" font-size="19.0" fill="#1e1e1e" text-anchor="end" stroke="#1e1e1e" >0.8</text>
<line x1="84.2" y1="644.9" x2="88.2" y2="644.9" stroke="#8a8a8a" stroke-width="1.5"/>
<text x="79.0" y="651.5" font-size="19.0" fill="#1e1e1e" text-anchor="end" stroke="#1e1e1e" >0.7</text>
<line x1="84.2" y1="695.1" x2="88.2" y2="695.1" stroke="#8a8a8a" stroke-width="1.5"/>
<text x="79.0" y="701.7" font-size="19.0" fill="#1e1e1e" text-anchor="end" stroke="#1e1e1e" >0.6</text>
<line x1="84.2" y1="745.3" x2="88.2" y2="745.3" stroke="#8a8a8a" stroke-width="1.5"/>
<text x="79.0" y="751.9" font-size="19.0" fill="#1e1e1e" text-anchor="end" stroke="#1e1e1e" >0.5</text>
<line x1="88.2" y1="745.3" x2="88.2" y2="749.3" stroke="#8a8a8a" stroke-width="1.5"/>
<text x="88.2" y="769.6" font-size="19.0" fill="#1e1e1e" text-anchor="middle" stroke="#1e1e1e" >500</text>
<line x1="146.4" y1="745.3" x2="146.4" y2="749.3" stroke="#8a8a8a" stroke-width="1.5"/>
<text x="146.4" y="769.6" font-size="19.0" fill="#1e1e1e" text-anchor="middle" stroke="#1e1e1e" >550</text>
<line x1="204.7" y1="745.3" x2="204.7" y2="749.3" stroke="#8a8a8a" stroke-width="1.5"/>
<text x="204.7" y="769.6" font-size="19.0" fill="#1e1e1e" text-anchor="middle" stroke="#1e1e1e" >600</text>
<line x1="262.9" y1="745.3" x2="262.9" y2="749.3" stroke="#8a8a8a" stroke-width="1.5"/>
<text x="262.9" y="769.6" font-size="19.0" fill="#1e1e1e" text-anchor="middle" stroke="#1e1e1e" >650</text>
<line x1="321.1" y1="745.3" x2="321.1" y2="749.3" stroke="#8a8a8a" stroke-width="1.5"/>
<text x="321.1" y="769.6" font-size="19.0" fill="#1e1e1e" text-anchor="middle" stroke="#1e1e1e" >700</text>
<line x1="379.4" y1="745.3" x2="379.4" y2="749.3" stroke="#8a8a8a" stroke-width="1.5"/>
<text x="379.4" y="769.6" font-size="19.0" fill="#1e1e1e" text-anchor="middle" stroke="#1e1e1e" >750</text>
<line x1="437.6" y1="745.3" x2="437.6" y2="749.3" stroke="#8a8a8a" stroke-width="1.5"/>
<text x="437.6" y="769.6" font-size="19.0" fill="#1e1e1e" text-anchor="middle" stroke="#1e1e1e" >800</text>
<text x="34.5" y="620.0" font-size="19.9" fill="#1e1e1e" text-anchor="middle" stroke="#1e1e1e" transform="rotate(-90 34.5 620)" dy="6.8">Reflection</text>
<path d="M88.2,717.4 C90.2,713.8 96.7,702.2 100.4,695.5 C104.1,688.8 107.2,682.7 110.6,677.1 C114.0,671.5 117.4,666.5 120.8,661.8 C124.2,657.0 127.6,652.6 131.0,648.6 C134.4,644.6 139.0,639.9 141.2,637.9 C143.4,635.9 143.3,635.3 144.3,636.8 C145.3,638.3 146.3,647.2 147.3,647.0 C148.3,646.8 149.0,637.9 150.4,635.8 C151.8,633.7 153.8,634.0 155.5,634.3 C157.2,634.5 158.9,635.2 160.6,637.3 C162.3,639.4 164.0,647.7 165.7,647.0 C167.4,646.3 169.1,636.2 170.8,633.3 C172.5,630.4 174.4,630.5 175.9,629.7 C177.4,628.9 177.4,630.1 180.0,628.7 C182.6,627.3 188.8,623.2 191.5,621.2 C194.2,619.2 195.2,616.6 196.2,616.8 C197.2,617.0 196.9,622.8 197.3,622.5 C197.7,622.2 195.7,618.7 198.4,614.8 C201.1,610.9 208.3,603.4 213.6,599.2 C218.9,595.0 226.4,590.6 230.1,589.5 C233.8,588.4 233.8,590.6 235.6,592.8 C237.4,595.0 238.6,603.1 241.1,602.9 C243.6,602.7 248.0,594.1 250.3,591.8 C252.6,589.5 252.9,589.5 255.0,589.2 C257.1,588.9 260.5,592.2 262.8,590.2 C265.1,588.2 266.4,581.4 268.6,577.5 C270.9,573.6 272.8,569.3 276.3,566.9 C279.9,564.5 286.3,563.2 289.9,563.0 C293.5,562.8 294.8,564.0 297.7,565.9 C300.6,567.8 303.1,573.1 307.3,574.6 C311.5,576.1 318.4,574.4 322.9,574.6 C327.4,574.8 331.3,577.1 334.5,576.0 C337.7,574.9 339.0,570.2 342.2,567.9 C345.4,565.6 347.4,562.3 353.9,562.0 C360.4,561.7 371.6,564.4 381.0,565.9 C390.4,567.4 400.7,570.3 410.1,570.8 C419.5,571.3 432.7,569.1 437.2,568.8" fill="none" stroke="#7a1f8c" stroke-width="2.8" stroke-linejoin="round"/>
<path d="M87.8,579.9 C88.2,577.9 89.1,571.4 90.5,568.0 C91.9,564.6 93.8,561.7 96.0,559.7 C98.2,557.7 99.1,557.1 103.4,556.0 C107.7,554.9 115.0,553.8 121.7,553.3 C128.4,552.8 139.8,552.6 143.8,552.9 C147.8,553.2 145.2,551.3 145.6,555.0 C146.0,558.7 146.3,568.4 146.5,575.0 C146.7,581.6 146.7,594.6 146.9,594.6 C147.1,594.6 147.3,581.6 147.6,575.0 C147.8,568.4 147.5,558.4 148.4,555.0 C149.3,551.6 151.5,554.4 153.0,554.7 C154.5,555.0 156.3,553.6 157.6,557.0 C158.8,560.4 159.6,567.0 160.5,575.0 C161.4,583.0 162.2,604.7 163.0,604.7 C163.8,604.7 164.7,583.0 165.5,575.0 C166.3,567.0 166.4,560.8 167.7,557.0 C169.0,553.2 168.6,554.9 173.2,552.4 C177.8,549.9 187.8,545.7 195.2,542.2 C202.5,538.7 212.9,532.9 217.3,531.2 C221.8,529.5 220.4,530.3 221.9,532.1 C223.4,533.9 225.1,535.9 226.4,542.2 C227.7,548.5 228.6,560.2 229.5,570.0 C230.4,579.8 231.3,598.5 232.0,601.0 C232.7,603.5 233.2,590.2 233.8,585.0 C234.4,579.8 234.5,576.6 235.6,569.8 C236.7,563.0 238.4,549.0 240.2,544.0 C242.0,539.0 244.3,540.0 246.6,539.5 C248.9,539.0 251.6,542.7 254.0,541.3 C256.4,539.9 258.4,533.5 260.8,531.0 C263.2,528.5 264.7,526.2 268.6,526.2 C272.5,526.2 279.6,529.5 284.1,531.0 C288.6,532.5 292.5,532.9 295.7,534.9 C298.9,536.9 300.4,539.2 303.5,542.7 C306.6,546.2 311.2,555.2 314.1,555.8 C317.0,556.4 318.5,549.3 320.9,546.5 C323.3,543.7 326.1,540.2 328.7,538.8 C331.3,537.3 331.9,537.3 336.4,537.8 C340.9,538.3 348.4,539.9 355.8,541.7 C363.2,543.5 372.6,546.4 381.0,548.5 C389.4,550.6 396.8,553.1 406.2,554.3 C415.6,555.5 432.0,555.5 437.2,555.8" fill="none" stroke="#e8141c" stroke-width="2.8" stroke-linejoin="round"/>
<polygon points="143.1,538.6 155.3,538.6 149.2,550.8" fill="#111"/>
<polygon points="155.9,543.0 168.2,543.0 162.1,556.1" fill="#111"/>
<polygon points="230.1,529.4 242.0,529.4 236.1,541.3" fill="#111"/>
<polygon points="246.6,523.9 259.5,523.9 253.1,535.8" fill="#111"/>
<polygon points="308.9,530.0 321.9,530.0 315.4,541.7" fill="#111"/>
<text x="125.7" y="531.4" font-size="19.0" fill="#1e1e1e" stroke="#1e1e1e" >M5</text>
<text x="164.9" y="536.3" font-size="19.0" fill="#1e1e1e" stroke="#1e1e1e" >M4</text>
<text x="210.8" y="520.2" font-size="19.0" fill="#1e1e1e" stroke="#1e1e1e" >M3</text>
<text x="247.4" y="514.6" font-size="19.0" fill="#1e1e1e" stroke="#1e1e1e" >M2</text>
<text x="315.0" y="520.4" font-size="19.0" fill="#1e1e1e" stroke="#1e1e1e" >M1</text>
<line x1="341.6" y1="704.5" x2="382.4" y2="704.5" stroke="#e8141c" stroke-width="2.8"/>
<line x1="341.6" y1="725.7" x2="382.4" y2="725.7" stroke="#7a1f8c" stroke-width="2.8"/>
<text x="392.6" y="711.5" font-size="19.0" fill="#1e1e1e" stroke="#1e1e1e" >Sim.</text>
<text x="392.6" y="732.7" font-size="19.0" fill="#1e1e1e" stroke="#1e1e1e" >Exp.</text>
<path d="M82.6,812.0 H436.3 V1067.0 H82.6 Z" fill="none" stroke="#8a8a8a" stroke-width="1.5"/>
<line x1="78.6" y1="812.0" x2="82.6" y2="812.0" stroke="#8a8a8a" stroke-width="1.5"/>
<text x="73.0" y="818.6" font-size="19.0" fill="#1e1e1e" text-anchor="end" stroke="#1e1e1e" >0.6</text>
<line x1="78.6" y1="854.5" x2="82.6" y2="854.5" stroke="#8a8a8a" stroke-width="1.5"/>
<text x="73.0" y="861.1" font-size="19.0" fill="#1e1e1e" text-anchor="end" stroke="#1e1e1e" >0.5</text>
<line x1="78.6" y1="897.0" x2="82.6" y2="897.0" stroke="#8a8a8a" stroke-width="1.5"/>
<text x="73.0" y="903.6" font-size="19.0" fill="#1e1e1e" text-anchor="end" stroke="#1e1e1e" >0.4</text>
<line x1="78.6" y1="939.5" x2="82.6" y2="939.5" stroke="#8a8a8a" stroke-width="1.5"/>
<text x="73.0" y="946.1" font-size="19.0" fill="#1e1e1e" text-anchor="end" stroke="#1e1e1e" >0.3</text>
<line x1="78.6" y1="982.0" x2="82.6" y2="982.0" stroke="#8a8a8a" stroke-width="1.5"/>
<text x="73.0" y="988.6" font-size="19.0" fill="#1e1e1e" text-anchor="end" stroke="#1e1e1e" >0.2</text>
<line x1="78.6" y1="1024.5" x2="82.6" y2="1024.5" stroke="#8a8a8a" stroke-width="1.5"/>
<text x="73.0" y="1031.1" font-size="19.0" fill="#1e1e1e" text-anchor="end" stroke="#1e1e1e" >0.1</text>
<line x1="78.6" y1="1067.0" x2="82.6" y2="1067.0" stroke="#8a8a8a" stroke-width="1.5"/>
<text x="73.0" y="1073.6" font-size="19.0" fill="#1e1e1e" text-anchor="end" stroke="#1e1e1e" >0.0</text>
<line x1="82.6" y1="1067.0" x2="82.6" y2="1071.0" stroke="#8a8a8a" stroke-width="1.5"/>
<text x="82.6" y="1092.6" font-size="19.0" fill="#1e1e1e" text-anchor="middle" stroke="#1e1e1e" >500</text>
<line x1="141.6" y1="1067.0" x2="141.6" y2="1071.0" stroke="#8a8a8a" stroke-width="1.5"/>
<text x="141.6" y="1092.6" font-size="19.0" fill="#1e1e1e" text-anchor="middle" stroke="#1e1e1e" >550</text>
<line x1="200.5" y1="1067.0" x2="200.5" y2="1071.0" stroke="#8a8a8a" stroke-width="1.5"/>
<text x="200.5" y="1092.6" font-size="19.0" fill="#1e1e1e" text-anchor="middle" stroke="#1e1e1e" >600</text>
<line x1="259.5" y1="1067.0" x2="259.5" y2="1071.0" stroke="#8a8a8a" stroke-width="1.5"/>
<text x="259.5" y="1092.6" font-size="19.0" fill="#1e1e1e" text-anchor="middle" stroke="#1e1e1e" >650</text>
<line x1="318.4" y1="1067.0" x2="318.4" y2="1071.0" stroke="#8a8a8a" stroke-width="1.5"/>
<text x="318.4" y="1092.6" font-size="19.0" fill="#1e1e1e" text-anchor="middle" stroke="#1e1e1e" >700</text>
<line x1="377.4" y1="1067.0" x2="377.4" y2="1071.0" stroke="#8a8a8a" stroke-width="1.5"/>
<text x="377.4" y="1092.6" font-size="19.0" fill="#1e1e1e" text-anchor="middle" stroke="#1e1e1e" >750</text>
<line x1="436.3" y1="1067.0" x2="436.3" y2="1071.0" stroke="#8a8a8a" stroke-width="1.5"/>
<text x="436.3" y="1092.6" font-size="19.0" fill="#1e1e1e" text-anchor="middle" stroke="#1e1e1e" >800</text>
<text x="27.8" y="939.6" font-size="20.1" fill="#1e1e1e" text-anchor="middle" stroke="#1e1e1e" transform="rotate(-90 27.8 939.6)" dy="6.9">Transmission</text>
<path d="M83.2,1022.2 C86.2,1021.7 94.7,1021.1 101.3,1019.4 C107.9,1017.7 116.3,1015.2 122.7,1012.0 C129.1,1008.8 136.6,1003.0 139.7,1000.2 C142.8,997.4 140.8,995.4 141.3,995.0 C141.8,994.6 140.6,999.1 142.5,998.0 C144.4,996.9 149.9,992.2 152.5,988.5 C155.1,984.8 156.6,977.0 157.8,975.7 C159.1,974.5 158.0,982.1 160.0,981.0 C162.0,979.9 165.2,973.7 169.6,969.3 C174.0,964.9 180.2,958.0 186.6,954.4 C193.0,950.8 202.3,948.6 208.0,947.5 C213.7,946.4 217.2,950.5 220.8,948.0 C224.4,945.5 226.5,934.2 229.3,932.6 C232.1,931.0 234.6,937.3 237.8,938.4 C241.0,939.5 245.2,936.0 248.5,939.4 C251.8,942.8 254.1,957.4 257.5,958.6 C260.9,959.9 265.1,950.2 269.2,946.9 C273.3,943.6 276.7,941.1 282.0,939.0 C287.3,936.9 296.4,936.5 301.2,934.1 C306.0,931.7 307.6,925.0 310.8,924.5 C314.0,924.0 316.3,932.7 320.4,930.9 C324.5,929.1 329.3,918.9 335.3,913.8 C341.3,908.6 347.7,904.8 356.6,900.0 C365.5,895.2 377.9,888.6 388.6,885.0 C399.3,881.4 412.8,879.4 420.6,878.6 C428.4,877.8 433.0,879.9 435.5,880.1" fill="none" stroke="#2a3a9a" stroke-width="2.8" stroke-linejoin="round"/>
<path d="M83.2,1003.0 C86.2,1002.6 95.4,1002.1 101.3,1000.8 C107.2,999.4 113.4,997.1 118.4,994.9 C123.4,992.7 127.3,990.7 131.2,987.4 C135.1,984.1 139.8,977.5 141.8,975.3 C143.9,973.1 143.0,974.0 143.5,974.0 C144.0,974.0 143.8,976.5 145.0,975.0 C146.2,973.5 147.9,969.7 150.4,965.0 C152.9,960.3 157.2,951.2 160.0,946.9 C162.8,942.6 164.7,943.5 167.4,939.4 C170.1,935.3 172.4,928.8 176.0,922.4 C179.6,916.0 184.5,906.7 188.8,901.0 C193.1,895.3 197.7,891.6 201.6,888.2 C205.5,884.8 207.9,882.4 212.2,880.8 C216.5,879.2 224.2,879.6 227.2,878.6 C230.2,877.6 228.8,876.9 230.4,875.0 C232.0,873.1 234.4,867.9 236.7,867.3 C239.0,866.7 242.0,871.1 244.2,871.6 C246.4,872.1 248.0,870.4 250.0,870.1 C252.0,869.9 254.6,868.5 256.4,870.1 C258.2,871.7 258.6,874.6 260.7,879.7 C262.8,884.9 266.0,898.3 269.2,901.0 C272.4,903.7 275.6,896.3 279.9,895.7 C284.2,895.1 290.6,899.0 294.8,897.2 C299.1,895.4 301.7,888.0 305.4,885.0 C309.1,882.0 313.6,879.6 317.2,879.3 C320.8,878.9 323.2,880.3 326.8,882.9 C330.4,885.5 334.6,894.1 338.5,894.6 C342.4,895.1 343.6,890.3 350.2,886.1 C356.8,881.9 368.4,873.6 378.0,869.5 C387.6,865.4 398.2,862.3 407.8,861.6 C417.4,860.9 430.9,864.6 435.5,865.2" fill="none" stroke="#2f7fd0" stroke-width="2.8" stroke-linejoin="round"/>
<polygon points="136.5,956.5 149.3,956.5 142.9,969.3" fill="#111"/>
<polygon points="156.8,929.8 169.6,929.8 163.2,942.6" fill="#111"/>
<polygon points="228.2,849.9 241.0,849.9 234.6,861.6" fill="#111"/>
<polygon points="253.8,855.2 266.0,855.2 259.9,866.9" fill="#111"/>
<polygon points="311.8,864.4 324.6,864.4 318.2,875.9" fill="#111"/>
<text x="121.6" y="949.0" font-size="19.0" fill="#1e1e1e" stroke="#1e1e1e" >M5</text>
<text x="144.0" y="922.0" font-size="19.0" fill="#1e1e1e" stroke="#1e1e1e" >M4</text>
<text x="216.5" y="843.0" font-size="19.0" fill="#1e1e1e" stroke="#1e1e1e" >M3</text>
<text x="249.5" y="848.8" font-size="19.0" fill="#1e1e1e" stroke="#1e1e1e" >M2</text>
<text x="306.5" y="857.3" font-size="19.0" fill="#1e1e1e" stroke="#1e1e1e" >M1</text>
<line x1="340.6" y1="1024.3" x2="382.2" y2="1024.3" stroke="#2a3a9a" stroke-width="2.8"/>
<line x1="340.6" y1="1045.6" x2="382.2" y2="1045.6" stroke="#2f7fd0" stroke-width="2.8"/>
<text x="391.8" y="1030.5" font-size="19.0" fill="#1e1e1e" stroke="#1e1e1e" >Sim.</text>
<text x="391.8" y="1052.0" font-size="19.0" fill="#1e1e1e" stroke="#1e1e1e" >Exp.</text>
<path d="M580.6,487.3 H962.3 V761.5 H580.6 Z" fill="none" stroke="#8a8a8a" stroke-width="1.5"/>
<line x1="576.6" y1="487.3" x2="580.6" y2="487.3" stroke="#8a8a8a" stroke-width="1.5"/>
<text x="570.5" y="493.9" font-size="19.0" fill="#1e1e1e" text-anchor="end" stroke="#1e1e1e" >80</text>
<line x1="576.6" y1="555.9" x2="580.6" y2="555.9" stroke="#8a8a8a" stroke-width="1.5"/>
<text x="570.5" y="562.5" font-size="19.0" fill="#1e1e1e" text-anchor="end" stroke="#1e1e1e" >60</text>
<line x1="576.6" y1="624.4" x2="580.6" y2="624.4" stroke="#8a8a8a" stroke-width="1.5"/>
<text x="570.5" y="631.0" font-size="19.0" fill="#1e1e1e" text-anchor="end" stroke="#1e1e1e" >40</text>
<line x1="576.6" y1="693.0" x2="580.6" y2="693.0" stroke="#8a8a8a" stroke-width="1.5"/>
<text x="570.5" y="699.6" font-size="19.0" fill="#1e1e1e" text-anchor="end" stroke="#1e1e1e" >20</text>
<line x1="576.6" y1="761.5" x2="580.6" y2="761.5" stroke="#8a8a8a" stroke-width="1.5"/>
<text x="570.5" y="768.1" font-size="19.0" fill="#1e1e1e" text-anchor="end" stroke="#1e1e1e" >0</text>
<line x1="580.6" y1="761.5" x2="580.6" y2="765.5" stroke="#8a8a8a" stroke-width="1.5"/>
<text x="580.6" y="789.8" font-size="19.0" fill="#1e1e1e" text-anchor="middle" stroke="#1e1e1e" >500</text>
<line x1="644.2" y1="761.5" x2="644.2" y2="765.5" stroke="#8a8a8a" stroke-width="1.5"/>
<text x="644.2" y="789.8" font-size="19.0" fill="#1e1e1e" text-anchor="middle" stroke="#1e1e1e" >550</text>
<line x1="707.8" y1="761.5" x2="707.8" y2="765.5" stroke="#8a8a8a" stroke-width="1.5"/>
<text x="707.8" y="789.8" font-size="19.0" fill="#1e1e1e" text-anchor="middle" stroke="#1e1e1e" >600</text>
<line x1="771.5" y1="761.5" x2="771.5" y2="765.5" stroke="#8a8a8a" stroke-width="1.5"/>
<text x="771.5" y="789.8" font-size="19.0" fill="#1e1e1e" text-anchor="middle" stroke="#1e1e1e" >650</text>
<line x1="835.1" y1="761.5" x2="835.1" y2="765.5" stroke="#8a8a8a" stroke-width="1.5"/>
<text x="835.1" y="789.8" font-size="19.0" fill="#1e1e1e" text-anchor="middle" stroke="#1e1e1e" >700</text>
<line x1="898.7" y1="761.5" x2="898.7" y2="765.5" stroke="#8a8a8a" stroke-width="1.5"/>
<text x="898.7" y="789.8" font-size="19.0" fill="#1e1e1e" text-anchor="middle" stroke="#1e1e1e" >750</text>
<line x1="962.3" y1="761.5" x2="962.3" y2="765.5" stroke="#8a8a8a" stroke-width="1.5"/>
<text x="962.3" y="789.8" font-size="19.0" fill="#1e1e1e" text-anchor="middle" stroke="#1e1e1e" >800</text>
<text x="0" y="0" font-size="19.8" fill="#1e1e1e" stroke="#1e1e1e" text-anchor="middle" transform="translate(537.5 624) rotate(-90)">|<tspan font-style="italic">E</tspan><tspan font-size="12" dy="-7">2</tspan><tspan dy="7">| Enhancement (a.u.)</tspan></text>
<path d="M579.8,680.4 C580.8,682.2 583.0,687.7 585.7,691.0 C588.5,694.3 592.5,697.9 596.3,700.4 C600.1,702.9 605.2,703.5 608.3,705.7 C611.4,707.9 611.9,710.6 615.0,713.7 C618.1,716.8 623.4,723.0 626.9,724.3 C630.4,725.6 634.1,723.9 636.3,721.7 C638.5,719.5 639.3,709.6 640.2,711.0 C641.1,712.4 641.0,723.6 641.5,730.0 C642.0,736.4 642.4,748.8 642.9,749.6 C643.4,750.4 643.6,739.0 644.5,735.0 C645.4,731.0 646.5,729.0 648.2,725.7 C649.9,722.4 652.9,718.5 654.9,715.0 C656.9,711.5 658.7,708.2 660.2,704.4 C661.8,700.6 662.2,694.0 664.2,692.4 C666.2,690.8 667.5,692.6 672.2,695.0 C676.9,697.4 686.7,705.9 692.2,707.0 C697.8,708.1 700.9,703.5 705.5,701.7 C710.1,699.9 717.0,695.9 720.1,696.4 C723.2,696.9 722.9,699.9 724.0,705.0 C725.1,710.1 725.7,732.9 726.8,727.0 C727.9,721.1 729.2,701.4 730.8,669.7 C732.3,638.0 734.1,565.5 736.1,536.6 C738.1,507.8 740.6,499.7 743.0,496.6 C745.4,493.5 748.3,507.8 750.7,518.0 C753.1,528.2 755.1,545.1 757.3,558.0 C759.5,570.9 762.4,583.3 764.0,595.3 C765.6,607.3 765.6,616.7 766.7,630.0 C767.8,643.3 768.2,663.6 770.6,675.2 C773.0,686.8 777.5,699.5 781.3,699.7 C785.1,699.9 789.5,681.7 793.3,676.6 C797.1,671.5 800.0,671.0 804.0,669.4 C808.0,667.8 814.2,672.9 817.3,667.2 C820.4,661.5 820.8,640.3 822.6,635.2 C824.4,630.1 825.8,632.2 828.0,636.6 C830.2,641.0 832.9,650.1 836.0,661.9 C839.1,673.7 843.1,697.9 846.6,707.2 C850.1,716.5 848.4,716.5 857.3,717.9 C866.2,719.3 888.3,715.5 899.9,715.7 C911.5,715.9 918.6,717.9 926.6,719.2 C934.6,720.5 941.9,723.2 947.9,723.7 C953.9,724.2 960.1,722.2 962.5,721.9" fill="none" stroke="#111" stroke-width="2.8" stroke-linejoin="round"/>
<polygon points="736.8,480.3 750.6,480.3 743.7,492.8" fill="#e31e24"/>
<polygon points="759.8,575.8 773.3,575.8 766.5,587.8" fill="#e31e24"/>
<polygon points="822.6,613.9 836.5,613.9 829.5,625.9" fill="#e31e24"/>
<polygon points="657.0,674.5 670.0,674.5 663.5,687.0" fill="#e31e24"/>
<polygon points="635.0,694.5 647.7,694.5 641.4,707.0" fill="#e31e24"/>
<text x="761.3" y="510.0" font-size="19.0" fill="#1e1e1e" stroke="#1e1e1e" >M3</text>
<text x="769.9" y="567.3" font-size="19.0" fill="#1e1e1e" stroke="#1e1e1e" >M2</text>
<text x="837.3" y="604.6" font-size="19.0" fill="#1e1e1e" stroke="#1e1e1e" >M1</text>
<text x="658.4" y="668.4" font-size="19.0" fill="#1e1e1e" stroke="#1e1e1e" >M4</text>
<text x="614.4" y="687.0" font-size="19.0" fill="#1e1e1e" stroke="#1e1e1e" >M5</text>
<defs>
<linearGradient id="eL" gradientUnits="userSpaceOnUse" x1="472" y1="0" x2="791" y2="0"><stop offset="0.0000" stop-color="#b81212"/><stop offset="0.0345" stop-color="#901010"/><stop offset="0.0658" stop-color="#3a0c0a"/><stop offset="0.0846" stop-color="#140c0a"/><stop offset="0.1317" stop-color="#140c0a"/><stop offset="0.1567" stop-color="#5a0e0a"/><stop offset="0.1881" stop-color="#d81010"/><stop offset="0.2288" stop-color="#e41a10"/><stop offset="0.3135" stop-color="#e84412"/><stop offset="0.3856" stop-color="#e63a10"/><stop offset="0.4389" stop-color="#e01210"/><stop offset="0.4859" stop-color="#a00e0a"/><stop offset="0.5141" stop-color="#2a0c0a"/><stop offset="0.5298" stop-color="#140c0a"/><stop offset="0.5799" stop-color="#140c0a"/><stop offset="0.5987" stop-color="#3a0e0a"/><stop offset="0.6270" stop-color="#b01010"/><stop offset="0.6520" stop-color="#d81010"/><stop offset="0.6991" stop-color="#e83010"/><stop offset="0.7837" stop-color="#f07000"/><stop offset="0.8558" stop-color="#ee6010"/><stop offset="0.9279" stop-color="#e42810"/><stop offset="0.9781" stop-color="#c41010"/><stop offset="1.0000" stop-color="#8a0e0a"/></linearGradient>
<linearGradient id="eR" gradientUnits="userSpaceOnUse" x1="791" y1="0" x2="970.3" y2="0"><stop offset="0.0000" stop-color="#1a0a08"/><stop offset="0.0837" stop-color="#1a0a08"/><stop offset="0.1506" stop-color="#1c0a08"/><stop offset="0.2287" stop-color="#3e0c08"/><stop offset="0.3179" stop-color="#64120c"/><stop offset="0.3960" stop-color="#64120c"/><stop offset="0.4629" stop-color="#3a0c08"/><stop offset="0.5187" stop-color="#1a0908"/><stop offset="0.6860" stop-color="#140808"/><stop offset="0.7864" stop-color="#3a0c08"/><stop offset="0.8868" stop-color="#6a140c"/><stop offset="0.9983" stop-color="#8a1a10"/></linearGradient>
<radialGradient id="eBulge" gradientUnits="userSpaceOnUse" cx="736" cy="955" r="150" gradientTransform="translate(736 955) scale(0.36 1) translate(-736 -955)"><stop offset="0" stop-color="#f9b200" stop-opacity="1"/><stop offset="0.45" stop-color="#f59a00" stop-opacity="0.8"/><stop offset="0.8" stop-color="#f07800" stop-opacity="0.3"/><stop offset="1" stop-color="#f07000" stop-opacity="0"/></radialGradient>
<radialGradient id="eHot" gradientUnits="userSpaceOnUse" cx="831" cy="952.5" r="17"><stop offset="0" stop-color="#fffbe0"/><stop offset="0.15" stop-color="#fff060"/><stop offset="0.35" stop-color="#f8a010" stop-opacity="0.9"/><stop offset="0.7" stop-color="#e02010" stop-opacity="0.5"/><stop offset="1" stop-color="#a01010" stop-opacity="0"/></radialGradient>
<radialGradient id="eGlow" gradientUnits="userSpaceOnUse" cx="845" cy="952" r="130" gradientTransform="translate(845 952) scale(0.35 1) translate(-845 -952)"><stop offset="0" stop-color="#c01c10" stop-opacity="0.75"/><stop offset="0.5" stop-color="#901810" stop-opacity="0.35"/><stop offset="1" stop-color="#6a1010" stop-opacity="0"/></radialGradient>
<radialGradient id="eTR" gradientUnits="userSpaceOnUse" cx="960" cy="830" r="60"><stop offset="0" stop-color="#b02010" stop-opacity="0.8"/><stop offset="1" stop-color="#8a1a10" stop-opacity="0"/></radialGradient>
<linearGradient id="cbar" x1="0" y1="0" x2="1" y2="0"><stop offset="0" stop-color="#0a0a0a"/><stop offset="0.1" stop-color="#3a0a08"/><stop offset="0.25" stop-color="#a01010"/><stop offset="0.36" stop-color="#e01010"/><stop offset="0.5" stop-color="#f04010"/><stop offset="0.62" stop-color="#f5a000"/><stop offset="0.73" stop-color="#f8e400"/><stop offset="0.86" stop-color="#fff3a0"/><stop offset="1" stop-color="#fffff4"/></linearGradient>
<linearGradient id="eHole" gradientUnits="userSpaceOnUse" x1="0" y1="875" x2="0" y2="1030"><stop offset="0" stop-color="#1a0a08"/><stop offset="0.26" stop-color="#c03626"/><stop offset="0.74" stop-color="#c03626"/><stop offset="1" stop-color="#1a0a08"/></linearGradient>
<radialGradient id="eNP"><stop offset="0" stop-color="#100a08"/><stop offset="0.6" stop-color="#120a08" stop-opacity="0.9"/><stop offset="1" stop-color="#120a08" stop-opacity="0"/></radialGradient>
<filter id="npBlur" x="-50%" y="-50%" width="200%" height="200%"><feGaussianBlur stdDeviation="0.9"/></filter>
<clipPath id="eclip"><rect x="472" y="810" width="498.3" height="285.5"/></clipPath>
</defs>
<g clip-path="url(#eclip)">
<rect x="472" y="810" width="319.5" height="285.5" fill="url(#eL)"/>
<ellipse cx="736" cy="955" rx="54" ry="150" fill="url(#eBulge)"/>
<rect x="791" y="810" width="179.3" height="285.5" fill="url(#eR)"/>
<ellipse cx="850" cy="952" rx="45" ry="130" fill="url(#eGlow)"/>
<rect x="900" y="810" width="71" height="285.5" fill="url(#eTR)"/>
<rect x="790.4" y="810" width="16" height="286" fill="#160a08"/>
<path d="M790.4,875 C790.4,925 805,945 836.7,947 L836.7,958.2 C805,960 790.4,980 790.4,1030 Z" fill="url(#eHole)"/>
<path d="M790.4,875 C790.4,925 805,945 836.7,947 C818,942 806.3,925 806.3,885 Z" fill="#6a140e" opacity="0.55"/>
<path d="M836.7,958.2 C805,960 790.4,980 790.4,1030 L806.3,1020 C806.3,980 818,963 836.7,958.2 Z" fill="#6a140e" opacity="0.55"/>
<rect x="806.3" y="880" width="30" height="145" fill="#4a0e0a" opacity="0.0"/>
<ellipse cx="832" cy="952.5" rx="18" ry="12" fill="url(#eHot)"/>
<ellipse cx="928" cy="953" rx="24" ry="40" fill="url(#eNP)"/>
<g filter="url(#npBlur)">
<rect x="916" y="943.5" width="4.5" height="19" fill="#8a2a28" opacity="0.8"/>
<rect x="920" y="947" width="9" height="12" fill="#6a4a3a" opacity="0.7"/>
<path d="M922,945 L938,946 L930,950.5 Z" fill="#e82020"/>
<path d="M922,961 L938,960 L930,955.5 Z" fill="#e82020"/>
</g>
<path d="M790.4,805 L790.4,875 C790.4,925 805,945 836.7,947" fill="none" stroke="#fff" stroke-width="1.8"/>
<path d="M806.3,805 L806.3,885 C806.3,925 818,942 836.7,946.5" fill="none" stroke="#fff" stroke-width="1.8"/>
<path d="M836.7,958.2 C805,960 790.4,980 790.4,1030 L790.4,1100" fill="none" stroke="#fff" stroke-width="1.8"/>
<path d="M836.7,958.5 C818,963 806.3,980 806.3,1020 L806.3,1100" fill="none" stroke="#fff" stroke-width="1.8"/>
<rect x="472" y="810" width="43" height="28.6" fill="#0e0c0a"/>
</g>
<text x="479.5" y="873.0" font-size="23.5" fill="#ffffff" textLength="40.5" lengthAdjust="spacingAndGlyphs" stroke="#ffffff" >M3:</text>
<text x="481.4" y="900.0" font-size="23.5" fill="#ffffff" textLength="231.6" lengthAdjust="spacingAndGlyphs" stroke="#ffffff" >wavelength of 630 nm</text>
<text x="899.0" y="856.0" font-size="23.5" fill="#ffffff" stroke="#ffffff" >Au</text>
<text x="865.5" y="883.0" font-size="23.5" fill="#ffffff" textLength="96.0" lengthAdjust="spacingAndGlyphs" stroke="#ffffff" >Nanopad</text>
<text x="816.5" y="1022.4" font-size="23.5" fill="#ffffff" textLength="131.5" lengthAdjust="spacingAndGlyphs" stroke="#ffffff" >3D Tapered,</text>
<text x="813.1" y="1047.3" font-size="23.5" fill="#ffffff" textLength="136.2" lengthAdjust="spacingAndGlyphs" stroke="#ffffff" >Au Nanohole</text>
<line x1="908.7" y1="892.8" x2="919.5" y2="917" stroke="#fff" stroke-width="2.2"/>
<polygon points="922,923.5 914.5,915.5 922.5,912.5" fill="#fff"/>
<line x1="485" y1="1079.4" x2="485" y2="1021" stroke="#fff" stroke-width="2.4"/>
<polygon points="485,1014.4 480.5,1023 489.5,1023" fill="#fff"/>
<line x1="484" y1="1079.4" x2="544" y2="1079.4" stroke="#fff" stroke-width="2.4"/>
<polygon points="551.2,1079.4 542.5,1074.9 542.5,1083.9" fill="#fff"/>
<text x="480.5" y="1007.0" font-size="23.5" fill="#ffffff" stroke="#ffffff" >y</text>
<text x="553.5" y="1088.6" font-size="23.5" fill="#ffffff" stroke="#ffffff" >x</text>
<rect x="615.5" y="1103.5" width="193.5" height="13" fill="url(#cbar)" stroke="#222" stroke-width="1"/>
<text x="547" y="1118.6" font-size="22" fill="#1e1e1e" stroke="#1e1e1e">I<tspan font-style="italic">E</tspan><tspan font-size="15" dy="-5">2</tspan><tspan dy="5">I</tspan></text>
<text x="600.0" y="1118.6" font-size="22.0" fill="#1e1e1e" stroke="#1e1e1e" >0</text>
<text x="811.4" y="1118.6" font-size="22.0" fill="#1e1e1e" stroke="#1e1e1e" >Max</text>
<text x="481.0" y="798.8" font-size="42.0" fill="#111" font-weight="bold" >E</text>
</svg>
</body></html>
